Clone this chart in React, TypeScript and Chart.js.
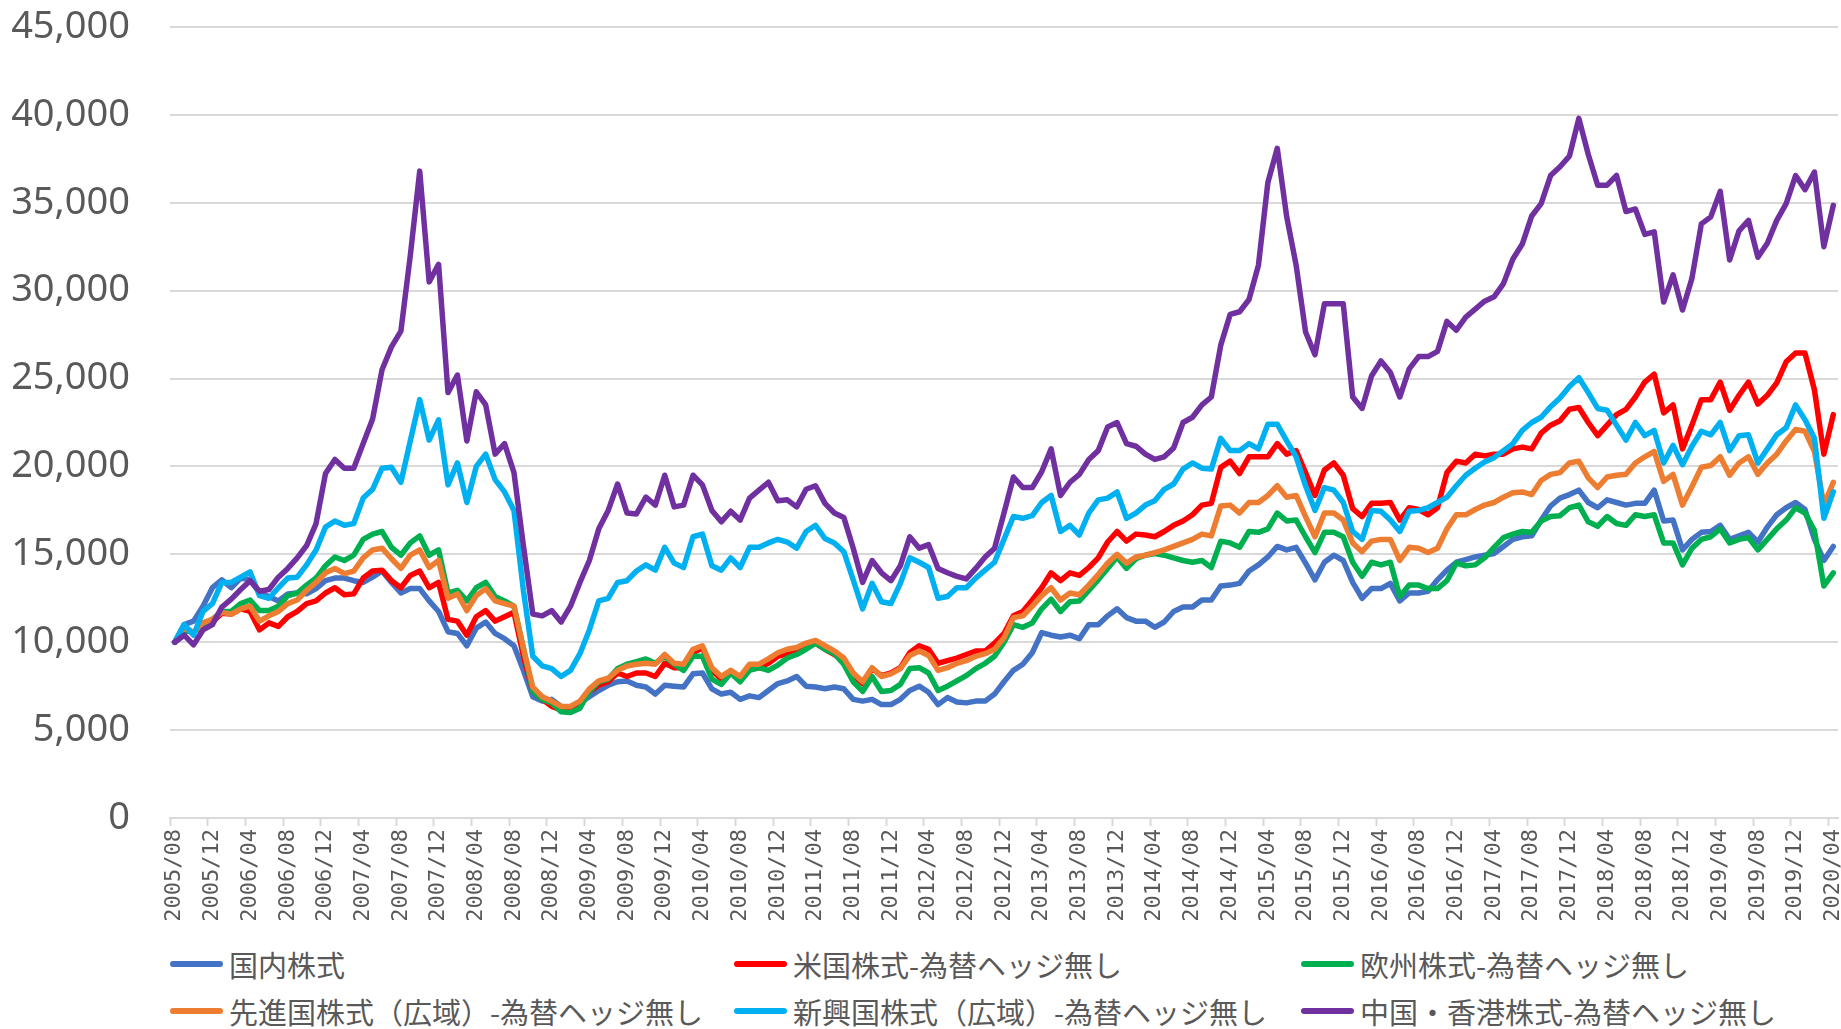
import React, { useEffect, useRef } from 'react';
import { Chart, registerables } from 'chart.js';

Chart.register(...registerables);

// ---- categories (monthly, 2005/08 .. 2020/04) ----
const START_YEAR = 2005;
const START_MONTH = 8;
const MONTH_COUNT = 177;
const months: string[] = [];
for (let k = 0; k < MONTH_COUNT; k++) {
  const m = START_MONTH - 1 + k;
  const y = START_YEAR + Math.floor(m / 12);
  const mm = (m % 12) + 1;
  months.push(`${y}/${mm < 10 ? '0' + mm : mm}`);
}

const yTickValues = [0, 5000, 10000, 15000, 20000, 25000, 30000, 35000, 40000, 45000];

// ---- series values ----
const domestic = [
  10000, 11000, 11200, 12050, 13100, 13550, 13100, 13650, 13550, 12800,
  12600, 12350, 12750, 12800, 12750, 13050, 13500, 13650, 13650, 13500,
  13400, 13700, 14050, 13400, 12800, 13050, 13050, 12350, 11750, 10600,
  10500, 9800, 10800, 11150, 10500, 10200, 9800, 8400, 6900, 6650,
  6750, 6350, 6300, 6550, 6900, 7250, 7550, 7750, 7800, 7550,
  7450, 7050, 7550, 7500, 7450, 8200, 8250, 7350, 7050, 7150,
  6750, 6950, 6850, 7250, 7650, 7800, 8050, 7500, 7450, 7350,
  7450, 7350, 6750, 6650, 6750, 6450, 6450, 6750, 7250, 7500,
  7150, 6450, 6850, 6600, 6550, 6650, 6650, 7050, 7750, 8400,
  8750, 9400, 10550, 10400, 10300, 10400, 10200, 11000, 11000, 11500,
  11900, 11400, 11200, 11200, 10850, 11150, 11750, 12000, 12000, 12400,
  12400, 13200, 13250, 13350, 14050, 14400, 14850, 15450, 15250, 15400,
  14500, 13550, 14550, 14950, 14650, 13400, 12500, 13050, 13050, 13350,
  12350, 12800, 12800, 12900, 13550, 14100, 14550, 14700, 14850, 14950,
  15050, 15450, 15850, 16000, 16050, 16950, 17750, 18200, 18400, 18650,
  17950, 17650, 18100, 17950, 17800, 17900, 17900, 18650, 16900, 16950,
  15250, 15850, 16250, 16300, 16650, 15850, 16050, 16250, 15700, 16550,
  17250, 17650, 17950, 17550, 15850, 14650, 15450,
];

const us = [
  10000, 10850, 10550, 11000, 11150, 11650, 11600, 11900, 11750, 10700,
  11100, 10900, 11450, 11750, 12200, 12350, 12800, 13100, 12700, 12750,
  13650, 14050, 14100, 13500, 13100, 13800, 14050, 13100, 13400, 11300,
  11200, 10400, 11450, 11800, 11200, 11450, 11700, 9200, 7200, 6750,
  6350, 6150, 6300, 6600, 7200, 7550, 7750, 8250, 8050, 8250,
  8250, 8050, 8800, 8550, 8550, 9400, 9700, 8400, 7900, 8350,
  7900, 8450, 8550, 8800, 9200, 9350, 9500, 9800, 9950, 9600,
  9300, 8900, 8100, 7650, 8500, 8100, 8250, 8550, 9400, 9800,
  9600, 8800, 8950, 9100, 9300, 9500, 9500, 9950, 10500, 11500,
  11750, 12400, 13100, 13950, 13500, 13950, 13800, 14250, 14800, 15700,
  16300, 15750, 16150, 16100, 16000, 16300, 16650, 16900, 17250, 17800,
  17900, 19950, 20300, 19600, 20550, 20550, 20550, 21300, 20700, 20900,
  19650, 18350, 19800, 20200, 19500, 17600, 17150, 17900, 17900, 17950,
  16950, 17650, 17550, 17250, 17650, 19650, 20300, 20200, 20700, 20600,
  20700, 20700, 21000, 21100, 21000, 21900, 22350, 22600, 23250, 23350,
  22500, 21750, 22350, 22950, 23250, 23950, 24800, 25250, 23050, 23500,
  21000, 22350, 23800, 23800, 24800, 23200, 24050, 24800, 23550, 24050,
  24750, 25950, 26450, 26450, 24350, 20700, 22950,
];

const europe = [
  10000, 10700, 10550, 11000, 11300, 11750, 11750, 12200, 12400, 11800,
  11800, 12050, 12650, 12800, 13250, 13650, 14350, 14850, 14650, 14950,
  15850, 16150, 16300, 15400, 14950, 15650, 16050, 14950, 15250, 12800,
  12950, 12350, 13100, 13400, 12600, 12350, 12050, 9650, 7200, 6750,
  6550, 6050, 6000, 6250, 7200, 7750, 7900, 8500, 8750, 8900,
  9050, 8800, 9200, 8750, 8400, 9200, 9200, 7900, 7600, 8250,
  7750, 8400, 8550, 8400, 8700, 9100, 9300, 9600, 9950, 9600,
  9350, 8750, 7750, 7200, 8050, 7200, 7250, 7600, 8500, 8550,
  8250, 7250, 7500, 7800, 8100, 8500, 8800, 9200, 10000, 11000,
  10850, 11100, 11900, 12450, 11750, 12300, 12350, 12950, 13550, 14200,
  14850, 14200, 14750, 14950, 15050, 14950, 14800, 14650, 14550, 14650,
  14250, 15750, 15650, 15400, 16300, 16250, 16450, 17350, 16900, 16950,
  16000, 15100, 16250, 16250, 16000, 14550, 13750, 14550, 14400, 14550,
  12600, 13250, 13250, 13050, 13050, 13500, 14500, 14350, 14400, 14800,
  15400, 15950, 16150, 16300, 16250, 16900, 17150, 17200, 17650, 17800,
  16850, 16600, 17150, 16750, 16650, 17250, 17150, 17250, 15650, 15650,
  14400, 15350, 15850, 16000, 16450, 15650, 15850, 15950, 15250, 15850,
  16450, 16950, 17650, 17350, 16350, 13200, 13950,
];

const developed = [
  10000, 10850, 10550, 11100, 11300, 11700, 11600, 11900, 12050, 11200,
  11500, 11750, 12200, 12400, 12950, 13400, 13950, 14200, 13900, 14050,
  14800, 15250, 15350, 14750, 14200, 14950, 15250, 14250, 14650, 12500,
  12750, 11800, 12650, 13050, 12350, 12200, 12050, 9650, 7450, 6900,
  6650, 6350, 6350, 6650, 7350, 7800, 7950, 8400, 8650, 8750,
  8800, 8750, 9300, 8800, 8750, 9600, 9800, 8550, 8050, 8400,
  8050, 8750, 8750, 9050, 9400, 9600, 9700, 9950, 10100, 9800,
  9500, 9100, 8250, 7750, 8550, 8050, 8200, 8500, 9250, 9500,
  9250, 8400, 8550, 8800, 8950, 9200, 9350, 9600, 10250, 11400,
  11500, 12050, 12650, 13100, 12400, 12800, 12700, 13250, 13850, 14500,
  15000, 14500, 14850, 14950, 15100, 15250, 15450, 15650, 15850, 16150,
  16050, 17750, 17800, 17350, 17950, 17950, 18350, 18900, 18250, 18350,
  17150, 16000, 17350, 17350, 16950, 15650, 15150, 15750, 15850, 15850,
  14650, 15400, 15350, 15100, 15350, 16450, 17250, 17250, 17550, 17800,
  17950, 18250, 18500, 18550, 18400, 19200, 19550, 19650, 20200, 20300,
  19350, 18800, 19400, 19500, 19550, 20200, 20550, 20850, 19150, 19550,
  17800, 18850, 19950, 20050, 20550, 19500, 20200, 20550, 19550, 20200,
  20700, 21450, 22100, 22000, 20850, 17800, 19100,
];

const emerging = [
  10000, 11000, 10400, 11750, 12200, 13400, 13400, 13700, 14000, 12650,
  12500, 13100, 13650, 13700, 14400, 15250, 16550, 16900, 16650, 16750,
  18200, 18700, 19900, 19950, 19100, 21450, 23800, 21500, 22650, 18950,
  20200, 17950, 20000, 20700, 19250, 18550, 17500, 12950, 9200, 8650,
  8500, 8050, 8400, 9350, 10700, 12350, 12500, 13400, 13500, 14050,
  14400, 14100, 15400, 14500, 14250, 16000, 16150, 14350, 14100, 14800,
  14250, 15400, 15400, 15650, 15850, 15700, 15350, 16300, 16650, 15900,
  15650, 15150, 13550, 11900, 13350, 12300, 12200, 13350, 14800, 14550,
  14250, 12500, 12600, 13100, 13100, 13650, 14100, 14550, 15850, 17150,
  17050, 17200, 17950, 18350, 16300, 16650, 16100, 17350, 18100, 18200,
  18550, 17050, 17350, 17800, 18050, 18700, 19000, 19850, 20200, 19900,
  19850, 21600, 20900, 20900, 21300, 21000, 22400, 22400, 21450, 20550,
  18900, 17500, 18800, 18650, 17950, 16300, 15850, 17500, 17450, 16950,
  16300, 17450, 17500, 17650, 17950, 18250, 18900, 19500, 19900, 20250,
  20500, 20900, 21300, 22050, 22500, 22800, 23400, 23900, 24550, 25050,
  24200, 23300, 23200, 22350, 21500, 22500, 21750, 22050, 20200, 21200,
  20100, 21150, 22000, 21800, 22500, 20900, 21750, 21800, 20200, 21000,
  21800, 22200, 23500, 22650, 21600, 17050, 18550,
];

const chinaHK = [
  10000, 10400, 9850, 10700, 11000, 12000, 12450, 13000, 13500, 12900,
  13000, 13700, 14200, 14800, 15500, 16750, 19600, 20400, 19900, 19900,
  21300, 22700, 25500, 26800, 27700, 32000, 36800, 30500, 31500, 24200,
  25200, 21450, 24250, 23500, 20700, 21300, 19650, 15500, 11600, 11500,
  11800, 11150, 12050, 13400, 14650, 16450, 17500, 19000, 17350, 17300,
  18250, 17800, 19500, 17700, 17800, 19500, 18950, 17500, 16850, 17450,
  16950, 18200, 18650, 19100, 18050, 18100, 17700, 18700, 18900, 17900,
  17350, 17100, 15350, 13400, 14650, 13950, 13500, 14350, 16000, 15350,
  15550, 14200, 13950, 13750, 13600, 14200, 14850, 15350, 17350, 19400,
  18800, 18800, 19700, 21000, 18350, 19100, 19550, 20400, 20900, 22250,
  22500, 21300, 21150, 20700, 20400, 20550, 21050, 22500, 22800, 23500,
  23950, 26900, 28650, 28800, 29500, 31450, 36150, 38100, 34200, 31450,
  27650, 26350, 29250, 29250, 29250, 23950, 23300, 25150, 26000, 25350,
  23950, 25550, 26250, 26250, 26550, 28250, 27750, 28500, 28950, 29400,
  29650, 30400, 31800, 32650, 34250, 34950, 36550, 37050, 37650, 39800,
  37750, 36000, 36000, 36550, 34500, 34650, 33200, 33350, 29350, 30900,
  28900, 30700, 33800, 34200, 35650, 31750, 33400, 34000, 31900, 32700,
  34000, 34950, 36550, 35750, 36750, 32500, 34850,
];

const seriesNames = [
  '国内株式',
  '米国株式-為替ヘッジ無し',
  '欧州株式-為替ヘッジ無し',
  '先進国株式（広域）-為替ヘッジ無し',
  '新興国株式（広域）-為替ヘッジ無し',
  '中国・香港株式-為替ヘッジ無し',
];
const seriesData = [domestic, us, europe, developed, emerging, chinaHK];
const seriesColors = ['#4472C4', '#FF0000', '#00B050', '#ED7D31', '#00B0F0', '#7030A0'];

// legend layout: [column, row] per series
const legendCells: [number, number][] = [
  [0, 0], [1, 0], [2, 0],
  [0, 1], [1, 1], [2, 1],
];
const legendColumnX = [170, 734, 1301];
const legendRowY = [964, 1011];

const CANVAS_W = 1841;
const CANVAS_H = 935;
const AXIS_GRAY = '#d9d9d9';
const TEXT_GRAY = '#595959';

export default function App() {
  const canvasRef = useRef<HTMLCanvasElement | null>(null);

  useEffect(() => {
    const canvas = canvasRef.current;
    if (!canvas) return;
    const chart = new Chart(canvas, {
      type: 'line',
      data: {
        labels: months,
        datasets: seriesData.map((d, i) => ({
          label: seriesNames[i],
          data: d,
          borderColor: seriesColors[i],
          backgroundColor: seriesColors[i],
          borderWidth: 5.5,
          pointRadius: 0,
          pointHoverRadius: 0,
          tension: 0,
          fill: false,
          borderJoinStyle: 'round' as const,
          borderCapStyle: 'round' as const,
          order: seriesData.length - 1 - i,
        })),
      },
      options: {
        responsive: false,
        animation: false,
        devicePixelRatio: 1,
        layout: { padding: { left: 0, right: 3, top: 27, bottom: 0 } },
        plugins: {
          legend: { display: false },
          tooltip: { enabled: false },
        },
        scales: {
          x: {
            type: 'category',
            offset: true,
            grid: {
              offset: true,
              drawOnChartArea: false,
              drawTicks: true,
              tickLength: 8,
              tickWidth: 2,
              tickColor: (ctx: any) => (ctx.index % 4 === 0 ? AXIS_GRAY : 'rgba(0,0,0,0)'),
            },
            border: { display: true, color: AXIS_GRAY, width: 2 },
            ticks: {
              autoSkip: false,
              maxRotation: 90,
              minRotation: 90,
              padding: 3,
              color: TEXT_GRAY,
              font: { family: '"DejaVu Sans Mono", monospace', size: 22 },
              callback: (_v: any, idx: number) => (idx % 4 === 0 ? months[idx] : ''),
            },
            afterFit: (scale: any) => {
              scale.height = CANVAS_H - 818;
              scale.paddingLeft = 0;
              scale.paddingRight = 0;
            },
          },
          y: {
            min: 0,
            max: 45000,
            afterBuildTicks: (scale: any) => {
              scale.ticks = yTickValues.map((v) => ({ value: v }));
            },
            grid: {
              color: AXIS_GRAY,
              lineWidth: 2,
              drawTicks: true,
              tickLength: 40,
              tickColor: 'rgba(0,0,0,0)',
            },
            border: { display: false },
            ticks: {
              padding: 0,
              color: TEXT_GRAY,
              font: { family: '"Noto Sans", sans-serif', size: 38 },
              callback: (v: any) => Number(v).toLocaleString('en-US'),
            },
            afterFit: (scale: any) => {
              scale.width = 170;
            },
          },
        },
      },
    });
    return () => {
      chart.destroy();
    };
  }, []);

  return (
    <div
      style={{
        position: 'fixed',
        left: 0,
        top: 0,
        width: CANVAS_W,
        height: 1029,
        background: '#ffffff',
        overflow: 'hidden',
      }}
    >
      <canvas ref={canvasRef} width={CANVAS_W} height={CANVAS_H} style={{ display: 'block' }} />
      {seriesNames.map((name, i) => (
        <div
          key={name}
          style={{
            position: 'absolute',
            left: legendColumnX[legendCells[i][0]],
            top: legendRowY[legendCells[i][1]] - 20,
            height: 40,
            display: 'flex',
            alignItems: 'center',
            whiteSpace: 'nowrap',
          }}
        >
          <div
            style={{
              width: 53,
              height: 6,
              borderRadius: 3,
              background: seriesColors[i],
              marginRight: 6,
            }}
          />
          <span
            style={{
              fontFamily: '"Noto Sans CJK JP", sans-serif',
              fontSize: 29,
              color: TEXT_GRAY,
              lineHeight: '40px',
            }}
          >
            {name}
          </span>
        </div>
      ))}
    </div>
  );
}
